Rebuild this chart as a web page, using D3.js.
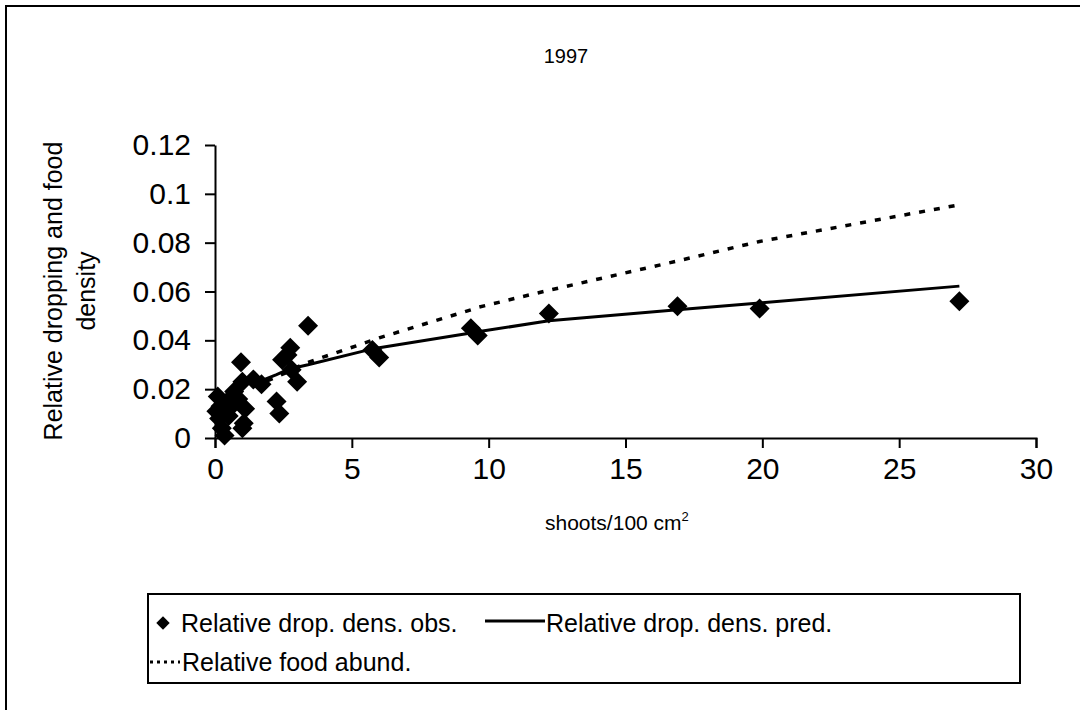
<!DOCTYPE html>
<html>
<head>
<meta charset="utf-8">
<script src="https://cdn.jsdelivr.net/npm/d3@7"></script>
<style>
  body { margin: 0; background: #fff; }
  svg { display: block; font-family: "Liberation Sans", Arial, sans-serif; }
</style>
</head>
<body>
<script>
// values
const obsX = [0.05, 0.1, 0.15, 0.2, 0.25, 0.35, 0.45, 0.5, 0.6, 0.7, 0.85, 0.95, 1.0, 1.05, 1.0, 1.1, 1.4, 1.7,
              2.25, 2.35, 2.45, 2.65, 2.75, 2.8, 3.0, 3.4, 5.75, 6.0, 9.35, 9.6, 12.2, 16.9, 19.9, 27.2]
const obsY = [0.011, 0.017, 0.008, 0.013, 0.004, 0.001, 0.015, 0.009, 0.013, 0.019, 0.016, 0.031, 0.004, 0.006, 0.023, 0.012, 0.024, 0.022,
              0.015, 0.010, 0.032, 0.034, 0.037, 0.028, 0.023, 0.046, 0.036, 0.033, 0.045, 0.042, 0.051, 0.054, 0.053, 0.056]

const lineX = [1.4, 1.7, 2.25, 2.45, 2.75, 3.0, 3.4, 5.75, 6.0, 9.35, 9.6, 12.2, 16.9, 19.9, 27.2]
const predY = [0.022, 0.0235, 0.026, 0.027, 0.028, 0.029, 0.030, 0.0365, 0.037, 0.043, 0.0435, 0.048, 0.0525, 0.0553, 0.0622]
const foodY = [0.021, 0.0225, 0.025, 0.026, 0.0275, 0.029, 0.031, 0.040, 0.041, 0.0525, 0.0535, 0.0605, 0.0725, 0.0805, 0.0955]

const xTicks = [0, 5, 10, 15, 20, 25, 30]
const yTicks = [0, 0.02, 0.04, 0.06, 0.08, 0.1, 0.12]
const yTickLabels = ["0", "0.02", "0.04", "0.06", "0.08", "0.1", "0.12"]

const legendNames = ["Relative drop. dens. obs.", "Relative drop. dens. pred.", "Relative food abund."]

const width = 1080, height = 710

const svg = d3.select("body").append("svg")
    .attr("width", width)
    .attr("height", height)

// scanned page frame
svg.append("rect")
    .attr("x", 6).attr("y", 6)
    .attr("width", 1090).attr("height", 720)
    .attr("fill", "none")
    .attr("stroke", "#000")
    .attr("stroke-width", 2)

const x = d3.scaleLinear().domain([0, 30]).range([215, 1036])
const y = d3.scaleLinear().domain([0, 0.12]).range([438, 145])

svg.append("text")
    .attr("x", 566).attr("y", 63)
    .attr("text-anchor", "middle")
    .style("font-size", "20px")
    .text("1997")

const xAxis = svg.append("g")
    .attr("transform", `translate(0, ${y(0)})`)
    .call(d3.axisBottom(x).tickValues(xTicks).tickSize(10).tickPadding(10).tickSizeOuter(10))
const yAxis = svg.append("g")
    .attr("transform", `translate(${x(0)}, 0)`)
    .call(d3.axisLeft(y).tickValues(yTicks).tickFormat((d, i) => yTickLabels[i]).tickSize(10).tickPadding(14).tickSizeOuter(0))

;[xAxis, yAxis].forEach(g => {
    g.attr("font-family", null).attr("font-size", null)
    g.select(".domain").attr("stroke-width", 2)
    g.selectAll(".tick line").attr("stroke-width", 2)
    g.selectAll(".tick text").style("font-size", "30px").attr("fill", "#000")
})

svg.append("text")
    .attr("x", 545).attr("y", 530)
    .style("font-size", "21px")
    .text("shoots/100 cm")
    .append("tspan")
    .attr("dy", -9)
    .style("font-size", "13px")
    .text("2")

const yLabel = svg.append("text")
    .attr("transform", "translate(62, 291) rotate(-90)")
    .attr("text-anchor", "middle")
    .style("font-size", "25px")
yLabel.append("tspan").attr("x", 0).attr("dy", 0).text("Relative dropping and food")
yLabel.append("tspan").attr("x", 0).attr("dy", 33).text("density")

const line = d3.line()
    .x((d, i) => x(lineX[i]))
    .y(d => y(d))

svg.append("path")
    .datum(foodY)
    .attr("fill", "none")
    .attr("stroke", "#000")
    .attr("stroke-width", 3.5)
    .attr("stroke-dasharray", "6,9")
    .attr("d", line)

svg.append("path")
    .datum(predY)
    .attr("fill", "none")
    .attr("stroke", "#000")
    .attr("stroke-width", 3)
    .attr("d", line)

const diamond = d3.symbol().type(d3.symbolSquare).size(200)

svg.selectAll(".obs")
    .data(obsX)
    .enter()
    .append("path")
    .attr("class", "obs")
    .attr("transform", (d, i) => `translate(${x(d)}, ${y(obsY[i])}) rotate(45)`)
    .attr("d", diamond)
    .attr("fill", "#000")

// legend
const legend = svg.append("g")
svg.append("rect")
    .attr("x", 148).attr("y", 594)
    .attr("width", 872).attr("height", 89)
    .attr("fill", "none")
    .attr("stroke", "#000")
    .attr("stroke-width", 2)

legend.append("path")
    .attr("transform", "translate(163, 623) rotate(45)")
    .attr("d", d3.symbol().type(d3.symbolSquare).size(90))
legend.append("text").attr("x", 181).attr("y", 632).style("font-size", "25px").text(legendNames[0])

legend.append("line")
    .attr("x1", 485).attr("x2", 545).attr("y1", 621).attr("y2", 621)
    .attr("stroke", "#000").attr("stroke-width", 3)
legend.append("text").attr("x", 546).attr("y", 632).style("font-size", "25px").text(legendNames[1])

legend.append("line")
    .attr("x1", 150).attr("x2", 180).attr("y1", 662).attr("y2", 662)
    .attr("stroke", "#000").attr("stroke-width", 3)
    .attr("stroke-dasharray", "3,4")
legend.append("text").attr("x", 182).attr("y", 671).style("font-size", "25px").text(legendNames[2])
</script>
</body>
</html>
